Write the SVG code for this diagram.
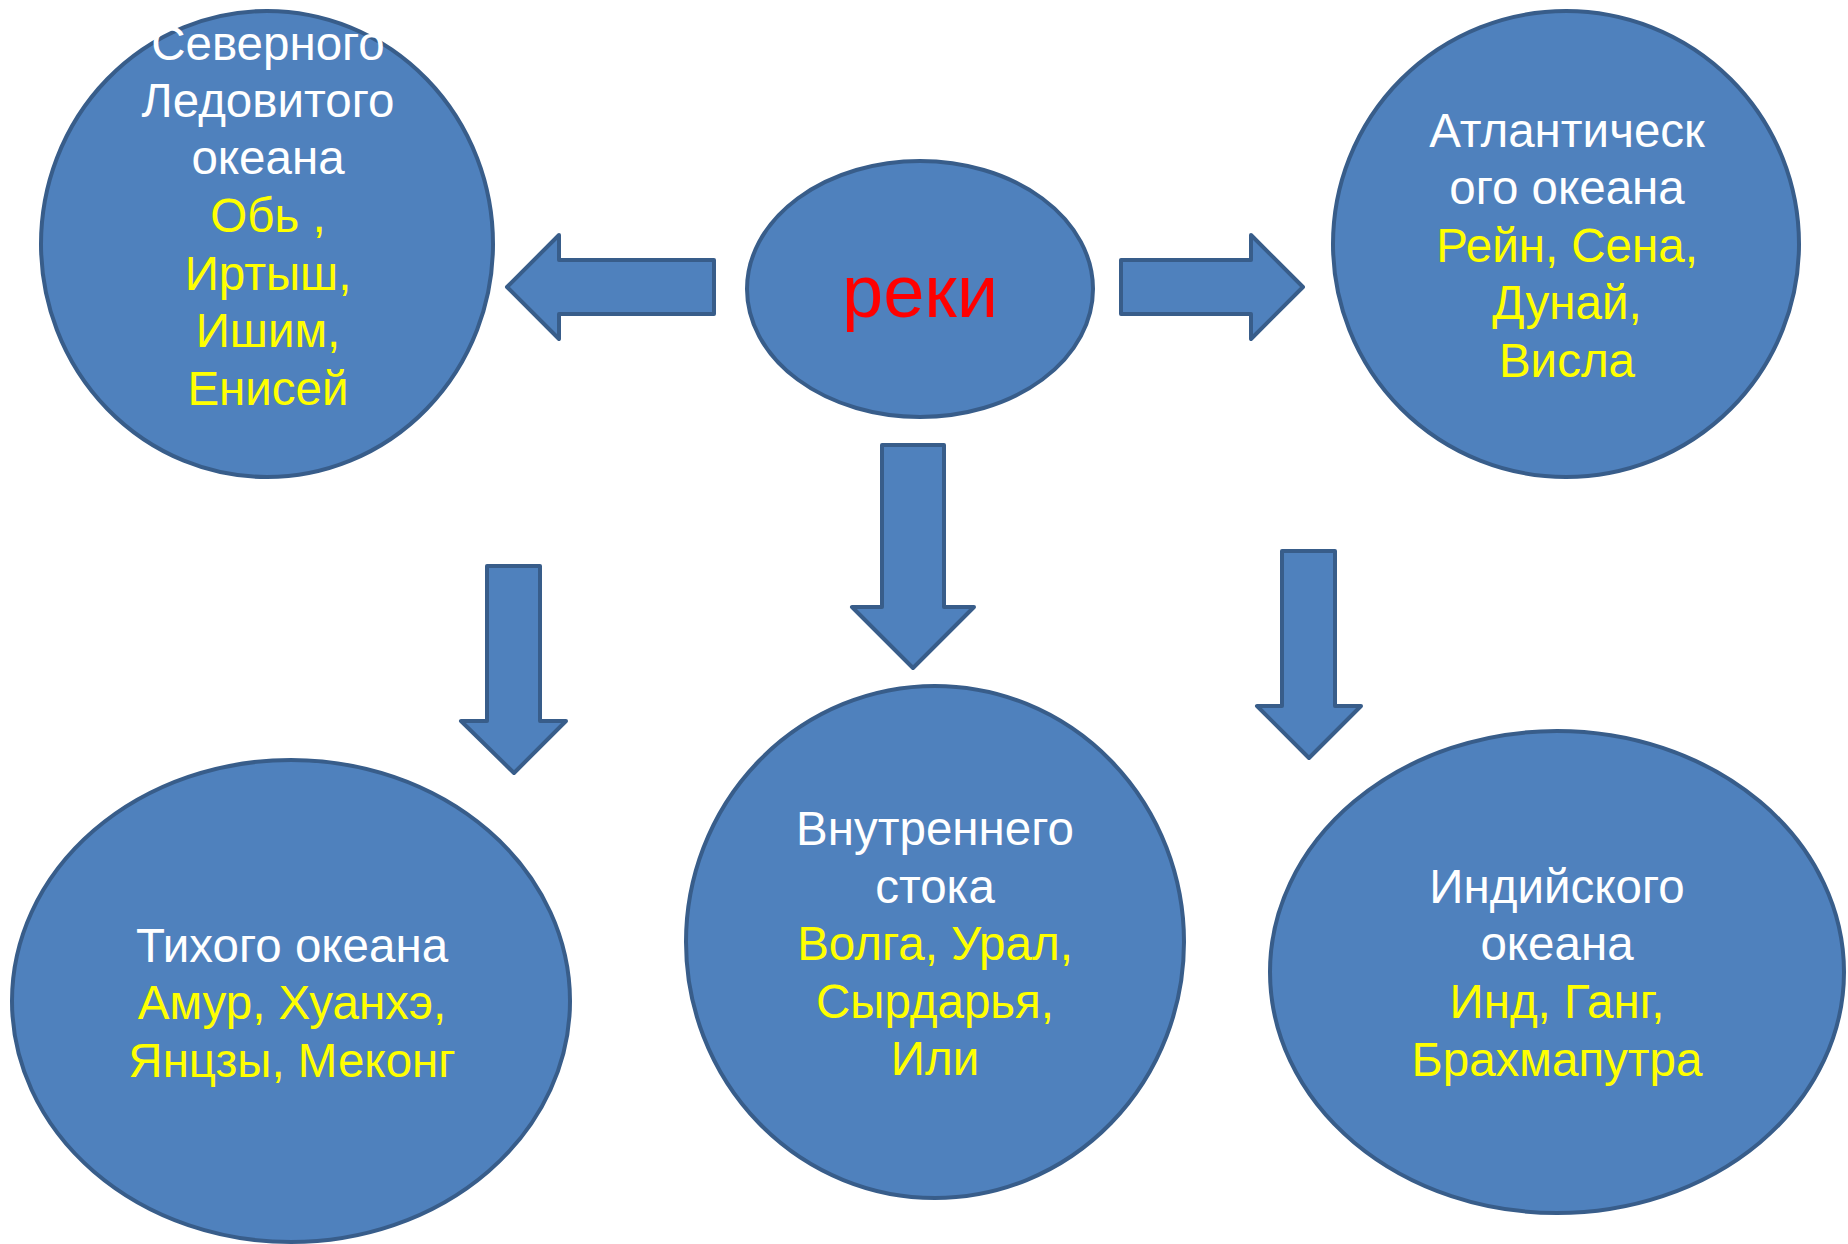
<svg xmlns="http://www.w3.org/2000/svg" width="1848" height="1244" viewBox="0 0 1848 1244">
<style>
.shape{fill:#4F81BD;stroke:#385D8A;stroke-width:4;stroke-linejoin:round}
text{font-family:"Liberation Sans",Arial,sans-serif;font-size:47.5px;text-anchor:middle}
.w{fill:#FFFFFF}
.y{fill:#FFFF00}
.r{fill:#FF0000;font-size:74px}
</style>
<rect width="1848" height="1244" fill="#FFFFFF"/>
<g id="connectors">
<path class="shape" d="M714,260 L559,260 L559,235 L507,287 L559,339 L559,314 L714,314 Z"/>
<path class="shape" d="M1121,260 L1251,260 L1251,235 L1303,287 L1251,339 L1251,314 L1121,314 Z"/>
<path class="shape" d="M882,445 L944,445 L944,607 L974,607 L913,668 L852,607 L882,607 Z"/>
<path class="shape" d="M487,566 L540,566 L540,721 L566,721 L514,773 L461,721 L487,721 Z"/>
<path class="shape" d="M1282,551 L1335,551 L1335,706 L1361,706 L1309,758 L1257,706 L1282,706 Z"/>
</g>
<g id="node-center">
<ellipse class="shape" cx="920" cy="289" rx="173" ry="128"/>
<text class="r" x="920" y="317">реки</text>
</g>
<g id="node-arctic">
<ellipse class="shape" cx="267" cy="244" rx="226" ry="233"/>
<text class="w" x="268" y="60">Северного</text>
<text class="w" x="268" y="117">Ледовитого</text>
<text class="w" x="268" y="174">океана</text>
<text class="y" x="268" y="232">Обь ,</text>
<text class="y" x="268" y="290">Иртыш,</text>
<text class="y" x="268" y="347">Ишим,</text>
<text class="y" x="268" y="405">Енисей</text>
</g>
<g id="node-atlantic">
<ellipse class="shape" cx="1566" cy="244" rx="233" ry="233"/>
<text class="w" x="1567" y="147">Атлантическ</text>
<text class="w" x="1567" y="204">ого океана</text>
<text class="y" x="1567" y="262">Рейн, Сена,</text>
<text class="y" x="1567" y="319">Дунай,</text>
<text class="y" x="1567" y="377">Висла</text>
</g>
<g id="node-pacific">
<ellipse class="shape" cx="291" cy="1001" rx="279" ry="241"/>
<text class="w" x="292" y="962">Тихого океана</text>
<text class="y" x="292" y="1019">Амур, Хуанхэ,</text>
<text class="y" x="292" y="1077">Янцзы, Меконг</text>
</g>
<g id="node-internal">
<ellipse class="shape" cx="935" cy="942" rx="249" ry="256"/>
<text class="w" x="935" y="845">Внутреннего</text>
<text class="w" x="935" y="903">стока</text>
<text class="y" x="935" y="960">Волга, Урал,</text>
<text class="y" x="935" y="1018">Сырдарья,</text>
<text class="y" x="935" y="1075">Или</text>
</g>
<g id="node-indian">
<ellipse class="shape" cx="1557" cy="972" rx="287" ry="241"/>
<text class="w" x="1557" y="903">Индийского</text>
<text class="w" x="1557" y="960">океана</text>
<text class="y" x="1557" y="1018">Инд, Ганг,</text>
<text class="y" x="1557" y="1076">Брахмапутра</text>
</g>
</svg>
